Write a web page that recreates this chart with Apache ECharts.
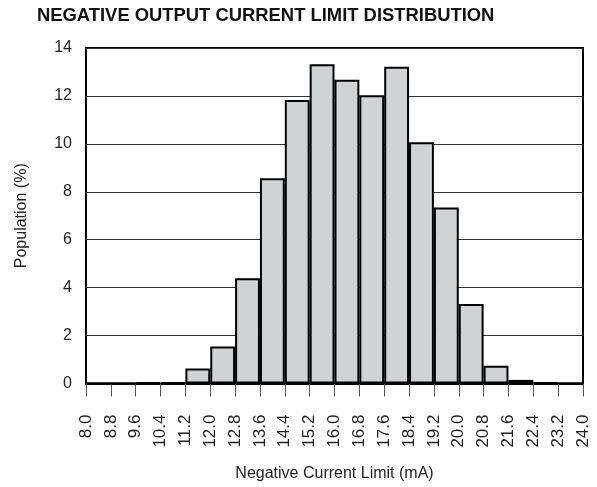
<!DOCTYPE html>
<html><head><meta charset="utf-8">
<script src="https://cdn.jsdelivr.net/npm/echarts@6/dist/echarts.min.js"></script>
<style>html,body{margin:0;padding:0;background:#fff}#c{width:597px;height:487px}</style>
</head><body><div id="c"></div>
<script>
// bins of 0.8 mA from 8.0 to 24.0
const binLabels = ["8.0-8.8","8.8-9.6","9.6-10.4","10.4-11.2","11.2-12.0","12.0-12.8","12.8-13.6","13.6-14.4","14.4-15.2","15.2-16.0","16.0-16.8","16.8-17.6","17.6-18.4","18.4-19.2","19.2-20.0","20.0-20.8","20.8-21.6","21.6-22.4","22.4-23.2","23.2-24.0"];
const population = [0,0,0.05,0.05,0.63,1.54,4.39,8.56,11.83,13.32,12.67,12.03,13.22,10.07,7.34,3.32,0.74,0.15,0.05,0];
const tickLabels = ["8.0","8.8","9.6","10.4","11.2","12.0","12.8","13.6","14.4","15.2","16.0","16.8","17.6","18.4","19.2","20.0","20.8","21.6","22.4","23.2","24.0"];
const yTicks = [0,2,4,6,8,10,12,14];

const font = "'Liberation Sans', Arial, sans-serif";
const chart = echarts.init(document.getElementById('c'), null, {renderer:'canvas'});
chart.setOption({
  animation:false,
  title:{text:"NEGATIVE OUTPUT CURRENT LIMIT DISTRIBUTION", left:32, top:2,
    textStyle:{fontFamily:font, fontSize:18.4, fontWeight:'bold', color:'#111'}},
  grid:{left:86, right:14, top:48, bottom:103.5, show:true, borderColor:'#000', borderWidth:2,
    backgroundColor:'transparent', containLabel:false, outerBoundsMode:'none'},
  xAxis:[
    {type:'category', data:binLabels, boundaryGap:true, position:'bottom', show:false},
    {type:'value', min:0, max:tickLabels.length-1, interval:1, position:'bottom',
      axisLine:{show:true, onZero:false, lineStyle:{color:'#000', width:2}},
      splitLine:{show:false},
      axisTick:{show:true, length:13, lineStyle:{color:'#555', width:1}},
      axisLabel:{show:true, rotate:90, margin:31, fontFamily:font, fontSize:17, color:'#222',
        formatter:function(v){return tickLabels[Math.round(v)];}},
      name:"Negative Current Limit (mA)", nameLocation:'middle', nameGap:82,
      nameTextStyle:{fontFamily:font, fontSize:16, color:'#222'}}
  ],
  yAxis:{type:'value', min:yTicks[0], max:yTicks[yTicks.length-1], interval:2,
    axisLine:{show:false}, axisTick:{show:false},
    axisLabel:{margin:14, fontFamily:font, fontSize:16, color:'#222'},
    splitLine:{show:true, lineStyle:{color:'#333', width:1}},
    name:"Population (%)", nameLocation:'middle', nameGap:56,
    nameTextStyle:{fontFamily:font, fontSize:16, color:'#222'}},
  series:[{type:'bar', xAxisIndex:0, data:population, barCategoryGap:'0%', barWidth:'100%',
    itemStyle:{color:'#d1d2d4', borderColor:'#000', borderWidth:2}}]
});
</script></body></html>
